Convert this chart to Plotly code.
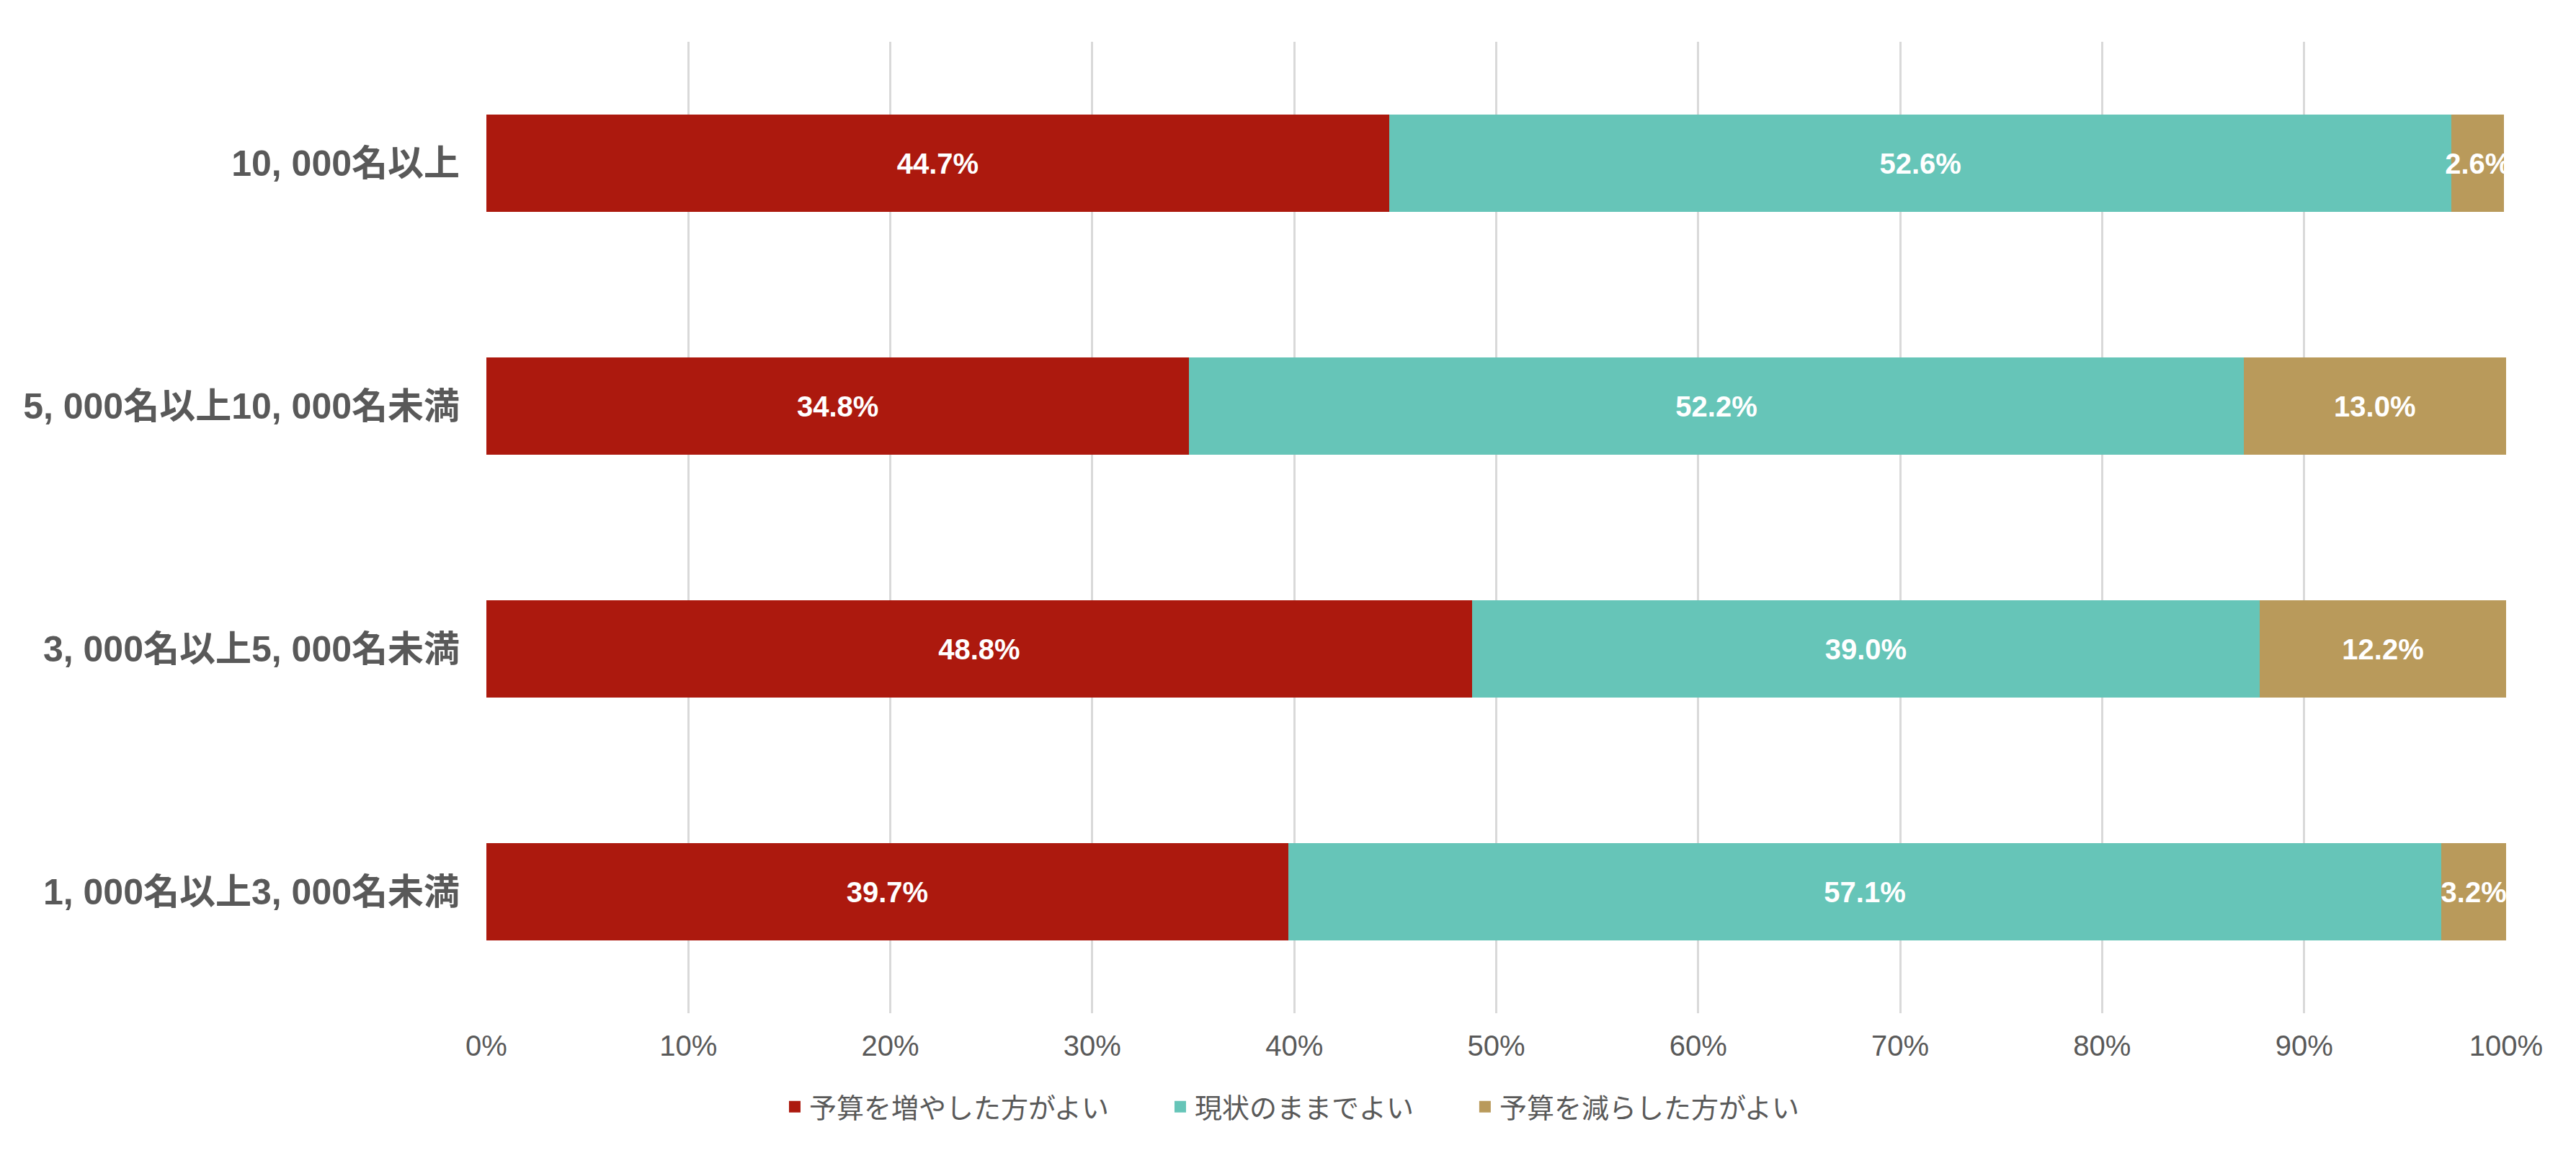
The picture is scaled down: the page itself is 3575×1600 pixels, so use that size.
import plotly.graph_objects as go

categories = ["10, 000名以上", "5, 000名以上10, 000名未満", "3, 000名以上5, 000名未満", "1, 000名以上3, 000名未満"]
series_names = ["予算を増やした方がよい", "現状のままでよい", "予算を減らした方がよい"]
increase = [44.7, 34.8, 48.8, 39.7]
same = [52.6, 52.2, 39.0, 57.1]
decrease = [2.6, 13.0, 12.2, 3.2]
colors = ["#AC190E", "#66C5B8", "#B99A5B"]
tick_vals = [0, 10, 20, 30, 40, 50, 60, 70, 80, 90, 100]
tick_text = [f"{v}%" for v in tick_vals]

FONT = "Liberation Sans, Arial, Noto Sans CJK JP, sans-serif"
GREY = "#595959"
PAD = "\u00a0" * 7

fig = go.Figure()
for name, vals, col in zip(series_names, [increase, same, decrease], colors):
    fig.add_trace(go.Bar(
        y=categories, x=vals, name=name, orientation="h",
        marker=dict(color=col, line=dict(width=0)),
        text=[f"{v:.1f}%" for v in vals],
        textposition="inside", insidetextanchor="middle", textangle=0,
        constraintext="none",
        textfont=dict(family=FONT, size=40, color="white", weight="bold"),
        cliponaxis=False,
        width=0.4,
        showlegend=False,
    ))

# legend entries with larger square swatches
for name, col in zip(series_names, colors):
    fig.add_trace(go.Scatter(
        x=[None], y=[None], mode="markers", name=name + PAD,
        marker=dict(symbol="square", size=21, color=col),
        showlegend=True,
    ))

fig.update_layout(
    barmode="stack",
    width=3575, height=1600,
    margin=dict(l=667, r=105, t=50, b=202),
    plot_bgcolor="white", paper_bgcolor="white",
    font=dict(family=FONT, color=GREY),
    showlegend=True,
    legend=dict(
        orientation="h", xref="container", x=0.5095, xanchor="center",
        yref="container", y=0.045, yanchor="middle",
        font=dict(family=FONT, size=38, color=GREY),
        traceorder="normal",
    ),
    xaxis=dict(
        range=[0, 100.001], tickvals=tick_vals, ticktext=tick_text,
        showgrid=True, gridcolor="#D9D9D9", gridwidth=3,
        zeroline=False, showline=False, automargin=False,
        tickfont=dict(family=FONT, size=40, color=GREY),
        ticks="", ticklabelstandoff=18,
    ),
    yaxis=dict(
        autorange="reversed", showgrid=False, zeroline=False, showline=False,
        automargin=False,
        tickfont=dict(family=FONT, size=50, color=GREY, weight="bold"),
        ticks="", ticklabelstandoff=36,
    ),
)

fig.write_html("out.html")
